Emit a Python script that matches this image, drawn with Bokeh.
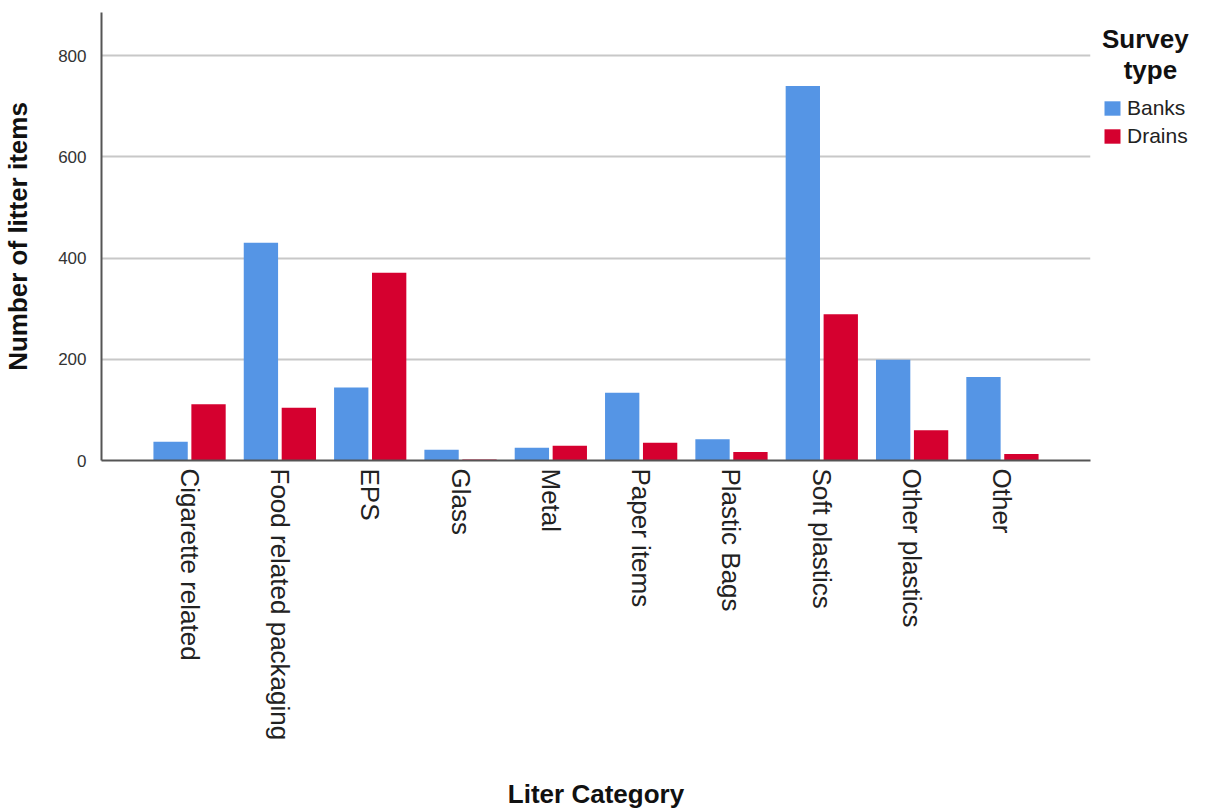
import math
from bokeh.plotting import figure
from bokeh.models import ColumnDataSource, FactorRange, Range1d, Legend, LegendItem
from bokeh.transform import dodge
from bokeh.embed import file_html
from bokeh.resources import INLINE

categories = ["Cigarette related", "Food related packaging", "EPS", "Glass", "Metal",
              "Paper items", "Plastic Bags", "Soft plastics", "Other plastics", "Other"]
banks = [37, 430, 144, 21, 25, 134, 42, 740, 199, 165]
drains = [111, 104, 371, 2, 29, 35, 17, 289, 60, 13]
y_ticks = [0, 200, 400, 600, 800]

BLUE = "#5595E5"
RED = "#D5002F"
FONT = "Liberation Sans"

src = ColumnDataSource(dict(cat=categories, banks=banks, drains=drains))

p = figure(frame_width=989, frame_height=448, output_backend="svg", toolbar_location=None,
           x_range=FactorRange(factors=categories, range_padding=0.095),
           y_range=Range1d(0, 885),
           min_border_left=101, min_border_right=110, min_border_top=12, min_border_bottom=340)
p.outline_line_color = None

rb = p.vbar(x=dodge("cat", -0.21, range=p.x_range), top="banks", width=0.38, source=src,
            fill_color=BLUE, line_color=None)
rd = p.vbar(x=dodge("cat", 0.21, range=p.x_range), top="drains", width=0.38, source=src,
            fill_color=RED, line_color=None)

p.xgrid.grid_line_color = None
p.ygrid.grid_line_color = "#C8C8C8"
p.ygrid.grid_line_width = 2
p.yaxis.ticker = y_ticks

for ax in (p.xaxis[0], p.yaxis[0]):
    ax.axis_line_color = "#555555"
    ax.axis_line_width = 2
    ax.major_tick_line_color = None
    ax.minor_tick_line_color = None
    ax.major_label_text_font = FONT
    ax.axis_label_text_font = FONT
    ax.axis_label_text_font_style = "bold"
    ax.axis_label_text_font_size = "26px"
    ax.axis_label_text_color = "#111111"

p.yaxis.major_label_text_font_size = "17px"
p.yaxis.major_label_text_color = "#333333"
p.yaxis.major_label_standoff = 9
p.yaxis.axis_label = "Number of litter items"
p.yaxis.axis_label_standoff = 22

p.xaxis.major_label_text_font_size = "26px"
p.xaxis.major_label_text_color = "#222222"
p.xaxis.major_label_orientation = -math.pi / 2
p.xaxis.major_label_standoff = 2
p.xaxis.axis_label = "Liter Category"
p.xaxis.axis_label_standoff = 36

legend = Legend(items=[LegendItem(label="Banks", renderers=[rb]),
                       LegendItem(label="Drains", renderers=[rd])],
                location="top_left", orientation="vertical",
                title="Survey\n\u00a0\u00a0\u00a0type", title_text_font=FONT, title_text_font_size="26px",
                title_text_font_style="bold", title_text_color="#111111",
                title_text_line_height=1.05, title_standoff=10,
                label_text_font=FONT, label_text_font_size="21px", label_text_color="#222222",
                glyph_width=20, glyph_height=18, label_height=18, spacing=4,
                padding=0, margin=12, border_line_color=None, background_fill_alpha=0,
                label_standoff=5)
p.add_layout(legend, "right")

open("out.html", "w").write(file_html(p, INLINE))
